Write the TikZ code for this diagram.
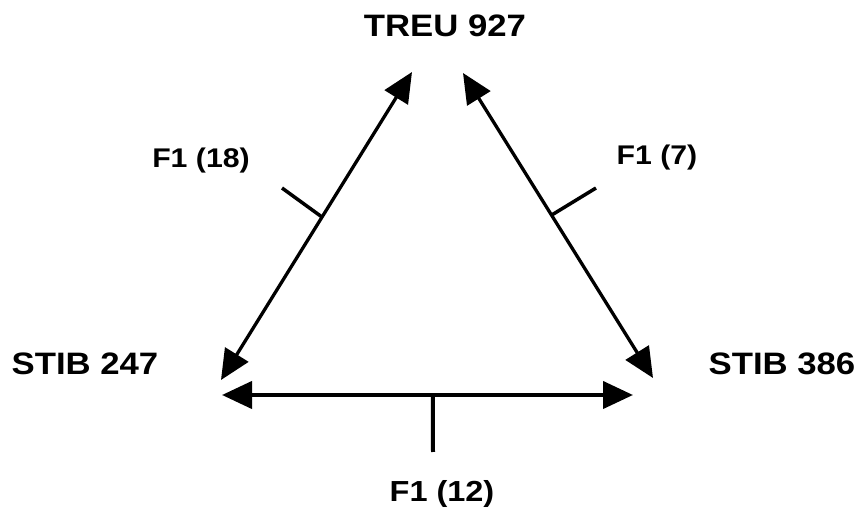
\documentclass[tikz,border=0pt]{standalone}
\usepackage{fontspec}
\setmainfont{Liberation Sans}
\usetikzlibrary{arrows.meta}
\tikzset{
  big/.style={font=\bfseries\fontsize{31}{31}\selectfont, inner sep=0pt, anchor=base},
  small/.style={font=\bfseries\fontsize{27}{27}\selectfont, inner sep=0pt, anchor=base},
  conn/.style={line width=3.3pt, {Triangle[length=30pt,width=27pt]}-{Triangle[length=30pt,width=27pt]}},
  hconn/.style={conn, line width=4.2pt},
  tick/.style={line width=3.5pt}
}
\newcommand{\wide}[1]{\scalebox{1.12}[1]{#1}}
\begin{document}
\begin{tikzpicture}[x=1pt,y=-1pt]
  \useasboundingbox (0,0) rectangle (860,510);
  % labels
  \node[big] (treu) at (445,37) {\wide{TREU 927}};
  \node[big] (stibA) at (85,375) {\wide{STIB 247}};
  \node[big] (stibB) at (782,375) {\wide{STIB 386}};
  \node[small] (fL) at (201,168) {\wide{F1 (18)}};
  \node[small] (fR) at (657,165) {\wide{F1 (7)}};
  \node[small, font=\bfseries\fontsize{29}{29}\selectfont] (fB) at (442,502) {\wide{F1 (12)}};
  % arrow ends
  \coordinate (lt) at (412,72);
  \coordinate (lb) at (221,380);
  \coordinate (rt) at (463,73);
  \coordinate (rb) at (653,378);
  \coordinate (hl) at (222,395);
  \coordinate (hr) at (633,395);
  % connectors
  \draw[conn] (lt) -- (lb) coordinate[pos=0.471] (lm);
  \draw[conn] (rt) -- (rb) coordinate[pos=0.466] (rm);
  \draw[hconn] (hl) -- (hr) coordinate[pos=0.513] (hm);
  % ticks
  \coordinate (lte) at (282,188);
  \coordinate (rte) at (596,188);
  \coordinate (hte) at (433,452);
  \draw[tick] (lm) -- (lte);
  \draw[tick] (rm) -- (rte);
  \draw[tick, line width=4pt] (hm) -- (hte);
\end{tikzpicture}
\end{document}
